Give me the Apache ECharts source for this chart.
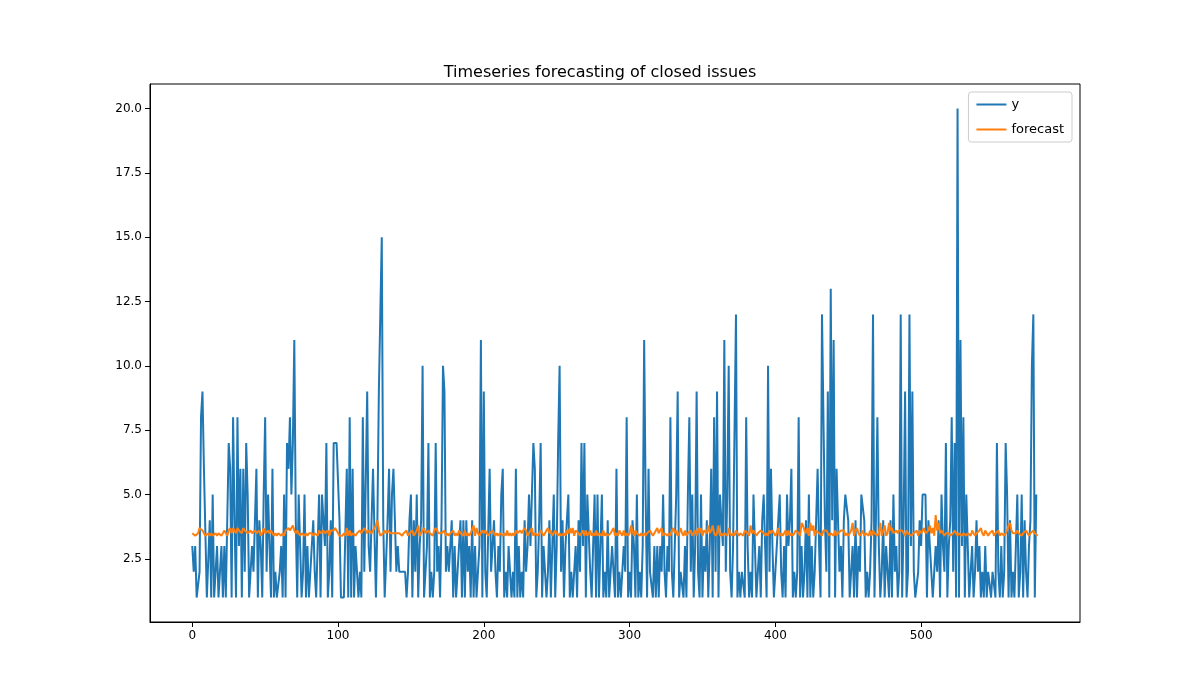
<!DOCTYPE html>
<html>
<head>
<meta charset="utf-8">
<script src="https://cdn.jsdelivr.net/npm/echarts@6/dist/echarts.min.js"></script>
<style>html,body{margin:0;padding:0;background:#fff}#chart{width:1200px;height:700px}</style>
</head>
<body>
<div id="chart"></div>
<script>
var titleText = 'Timeseries forecasting of closed issues';
var seriesNames = ['y', 'forecast'];
var xTicks = [0, 100, 200, 300, 400, 500];
var yTicks = [2.5, 5.0, 7.5, 10.0, 12.5, 15.0, 17.5, 20.0];

var yValues = [
  3,2,3,1,1,2,8,9,6,6,1,1,4,1,5,1,1,3,1,2,3,1,3,1,1,7,6,1,8,4,1,8,3,6,1,6,2,7,5,1,2,
  3,2,4,6,1,4,3,1,5,8,2,5,3,1,6,1,2,1,1,2,3,1,5,1,7,6,8,5,7,11,4,1,5,3,1,2,5,1,3,1,2,
  2,4,2,1,3,5,1,5,5,3,7,1,2,4,1,7,7,7,7,4,1,1,1,1,6,1,8,1,6,1,3,2,1,2,1,8,2,2,9,3,2,
  2,6,6,1,4,9,12,15,4,1,1,4,6,2,5,6,4,2,3,2,2,2,2,2,1,2,4,5,1,4,2,5,1,3,4,10,1,2,3,7,1,2,
  1,2,7,2,3,1,4,10,9,2,3,2,2,4,1,3,1,2,3,4,1,4,1,4,2,3,1,4,1,3,1,2,3,11,1,9,2,1,1,6,2,
  3,4,2,1,3,2,5,6,1,2,1,3,3,1,2,1,6,1,3,1,2,1,4,2,3,5,3,5,7,6,1,2,4,7,1,3,3,1,2,4,1,3,
  5,1,3,7,10,2,4,1,3,4,5,1,2,1,1,3,1,4,2,7,3,7,1,5,5,2,1,3,5,1,5,1,3,5,1,2,1,4,1,2,3,
  3,1,6,1,2,1,1,3,2,8,1,2,1,4,3,1,5,1,2,1,3,11,5,1,6,2,2,1,3,1,3,1,3,2,5,2,1,3,2,8,2,1,
  3,5,9,1,2,2,1,3,1,5,8,2,5,1,3,9,2,1,5,1,3,2,4,1,3,6,1,8,2,9,1,5,4,3,11,2,5,10,2,1,3,
  3,12,1,2,1,2,2,1,8,3,1,2,1,5,5,1,2,3,1,4,5,3,1,10,2,6,3,1,2,3,4,5,2,1,3,1,5,3,4,6,1,2,
  1,2,8,1,3,1,2,4,1,5,1,3,1,2,4,6,3,1,12,12,4,2,9,1,13,4,11,1,6,6,2,3,1,4,5,5,4,1,2,3,1,
  4,1,3,2,5,5,4,1,2,1,2,4,12,1,4,8,3,1,2,4,1,3,2,1,4,1,5,2,3,1,2,12,1,4,9,1,2,12,3,9,2,1,
  1,2,4,3,5,5,5,1,4,3,2,1,1,3,2,4,1,5,3,2,7,1,3,4,8,2,7,1,20,1,11,3,8,1,5,3,1,2,3,1,2,
  4,2,3,1,2,1,3,1,2,2,1,2,2,1,7,2,1,3,1,2,7,5,1,4,1,2,1,3,5,1,2,5,1,4,2,1,3,4,10,12,1,5
];

var forecastValues = [
  3.5,3.5,3.4,3.4,3.5,3.7,3.7,3.6,3.5,3.4,3.4,3.5,3.4,3.5,3.4,3.4,3.5,3.4,3.5,3.5,3.4,3.5,3.6,3.5,3.4,3.6,3.7,3.5,3.7,3.6,3.5,3.7,3.6,3.6,3.5,3.7,3.6,3.6,3.5,3.5,
  3.6,3.5,3.5,3.6,3.5,3.5,3.6,3.4,3.5,3.7,3.5,3.5,3.6,3.5,3.6,3.5,3.4,3.5,3.4,3.5,3.5,3.4,3.5,3.4,3.6,3.6,3.7,3.6,3.7,3.8,3.6,3.5,3.6,3.5,3.4,3.5,3.5,3.4,3.5,3.4,
  3.5,3.5,3.5,3.4,3.5,3.5,3.4,3.6,3.5,3.5,3.6,3.5,3.5,3.6,3.4,3.6,3.6,3.6,3.7,3.6,3.5,3.4,3.4,3.4,3.5,3.4,3.7,3.4,3.6,3.4,3.5,3.5,3.4,3.5,3.5,3.6,3.5,3.5,3.7,3.6,
  3.5,3.6,3.6,3.5,3.6,3.7,3.8,4.0,3.6,3.4,3.4,3.5,3.6,3.5,3.6,3.6,3.5,3.5,3.5,3.5,3.5,3.5,3.5,3.5,3.4,3.5,3.5,3.6,3.4,3.5,3.5,3.6,3.4,3.5,3.6,3.8,3.4,3.5,3.5,3.7,
  3.5,3.5,3.6,3.5,3.5,3.4,3.6,3.7,3.7,3.5,3.5,3.5,3.5,3.6,3.4,3.5,3.4,3.5,3.5,3.6,3.4,3.5,3.4,3.6,3.5,3.5,3.4,3.6,3.4,3.5,3.4,3.5,3.5,3.8,3.4,3.7,3.5,3.4,3.4,3.6,
  3.5,3.6,3.5,3.4,3.5,3.5,3.6,3.6,3.4,3.5,3.4,3.5,3.5,3.4,3.5,3.4,3.6,3.4,3.5,3.4,3.5,3.4,3.6,3.5,3.5,3.6,3.5,3.6,3.7,3.6,3.4,3.5,3.6,3.7,3.4,3.5,3.5,3.4,3.5,3.6,
  3.6,3.4,3.5,3.6,3.7,3.5,3.6,3.4,3.5,3.6,3.6,3.4,3.5,3.4,3.4,3.5,3.4,3.6,3.5,3.7,3.5,3.7,3.4,3.6,3.6,3.5,3.4,3.5,3.6,3.4,3.6,3.4,3.5,3.6,3.4,3.5,3.4,3.6,3.4,3.5,
  3.5,3.4,3.6,3.4,3.5,3.4,3.4,3.5,3.5,3.7,3.4,3.5,3.4,3.6,3.5,3.4,3.6,3.4,3.5,3.4,3.5,3.8,3.6,3.4,3.6,3.5,3.5,3.4,3.5,3.4,3.5,3.4,3.5,3.5,3.6,3.5,3.4,3.5,3.5,3.7,
  3.5,3.6,3.7,3.4,3.5,3.5,3.4,3.5,3.4,3.6,3.7,3.5,3.6,3.4,3.5,3.7,3.5,3.4,3.6,3.4,3.5,3.5,3.6,3.4,3.5,3.6,3.4,3.7,3.5,3.7,3.4,3.6,3.6,3.5,3.8,3.5,3.6,3.8,3.5,3.4,
  3.5,3.8,3.4,3.5,3.4,3.5,3.5,3.4,3.7,3.5,3.4,3.5,3.4,3.6,3.6,3.4,3.5,3.5,3.4,3.6,3.6,3.5,3.4,3.8,3.5,3.6,3.5,3.4,3.5,3.5,3.6,3.6,3.5,3.4,3.5,3.4,3.6,3.5,3.6,3.6,
  3.4,3.5,3.7,3.4,3.5,3.4,3.5,3.6,3.4,3.6,3.4,3.5,3.4,3.5,3.6,3.6,3.5,3.4,3.9,3.8,3.6,3.5,3.7,3.4,3.9,3.6,3.8,3.4,3.6,3.6,3.5,3.5,3.4,3.6,3.6,3.6,3.6,3.4,3.5,3.5,
  3.4,3.6,3.4,3.5,3.5,3.6,3.6,3.6,3.4,3.5,3.4,3.5,3.6,3.9,3.4,3.6,3.7,3.5,3.4,3.5,3.6,3.4,3.5,3.5,3.4,3.6,3.4,3.6,3.5,3.5,3.4,3.5,3.9,3.4,3.6,3.8,3.4,3.5,3.9,3.6,
  3.7,3.5,3.5,3.6,3.5,3.6,3.6,3.6,3.5,3.4,3.6,3.5,3.5,3.4,3.4,3.5,3.5,3.6,3.4,3.6,3.5,3.5,3.7,3.5,3.5,3.6,3.8,3.5,3.7,3.4,4.2,3.6,3.9,3.5,3.6,3.6,3.4,3.5,3.5,3.5,
  3.4,3.4,3.5,3.6,3.5,3.4,3.5,3.5,3.4,3.5,3.5,3.4,3.5,3.5,3.4,3.6,3.5,3.4,3.5,3.5,3.6,3.7,3.5,3.4,3.6,3.5,3.4,3.5,3.5,3.6,3.4,3.5,3.5,3.6,3.4,3.5,3.5,3.4,3.5,3.6,
  3.8,3.9,3.6,3.5,3.5,3.5,3.6,3.5,3.5,3.4,3.5,3.5,3.6,3.5,3.4,3.5,3.5,3.6,3.5,3.5,3.4
];

function pairs(arr) {
  return arr.map(function (v, i) { return [i, v]; });
}

var myChart = echarts.init(document.getElementById('chart'));
var font = 'DejaVu Sans';
var option = {
  animation: false,
  textStyle: { fontFamily: font },
  title: {
    text: titleText, left: 'center', top: 60,
    textStyle: { fontFamily: font, fontSize: 16, fontWeight: 'normal', color: '#000' }
  },
  legend: {
    right: 128, top: 92, orient: 'vertical',
    data: seriesNames,
    icon: 'path://M0,0 L30,0 L30,2 L0,2 Z',
    itemWidth: 30, itemHeight: 2, itemGap: 12,
    borderColor: '#ccc', borderWidth: 1, borderRadius: 3, padding: [6, 8],
    backgroundColor: 'rgba(255,255,255,0.8)',
    textStyle: { fontFamily: font, fontSize: 13, color: '#000' }
  },
  grid: {
    left: 150, right: 120, top: 84, bottom: 78,
    show: true, borderColor: '#000', borderWidth: 1
  },
  xAxis: {
    type: 'value', min: -29, max: 609,
    splitLine: { show: false },
    axisLine: { onZero: false, lineStyle: { color: '#000' } },
    axisTick: { customValues: xTicks, lineStyle: { color: '#000' }, length: 5 },
    axisLabel: { customValues: xTicks, color: '#000', fontSize: 12, margin: 8 }
  },
  yAxis: {
    type: 'value', min: 0.05, max: 20.95,
    splitLine: { show: false },
    axisLine: { show: true, onZero: false, lineStyle: { color: '#000' } },
    axisTick: { show: true, customValues: yTicks, lineStyle: { color: '#000' }, length: 5 },
    axisLabel: {
      customValues: yTicks, color: '#000', fontSize: 12, margin: 8,
      formatter: function (v) { return Number(v).toFixed(1); }
    }
  },
  series: [
    {
      name: seriesNames[0], type: 'line', data: pairs(yValues),
      showSymbol: false, color: '#1f77b4', lineStyle: { width: 2 }
    },
    {
      name: seriesNames[1], type: 'line', data: pairs(forecastValues),
      showSymbol: false, color: '#ff7f0e', lineStyle: { width: 2 }
    }
  ]
};
option && myChart.setOption(option);
</script>
</body>
</html>
